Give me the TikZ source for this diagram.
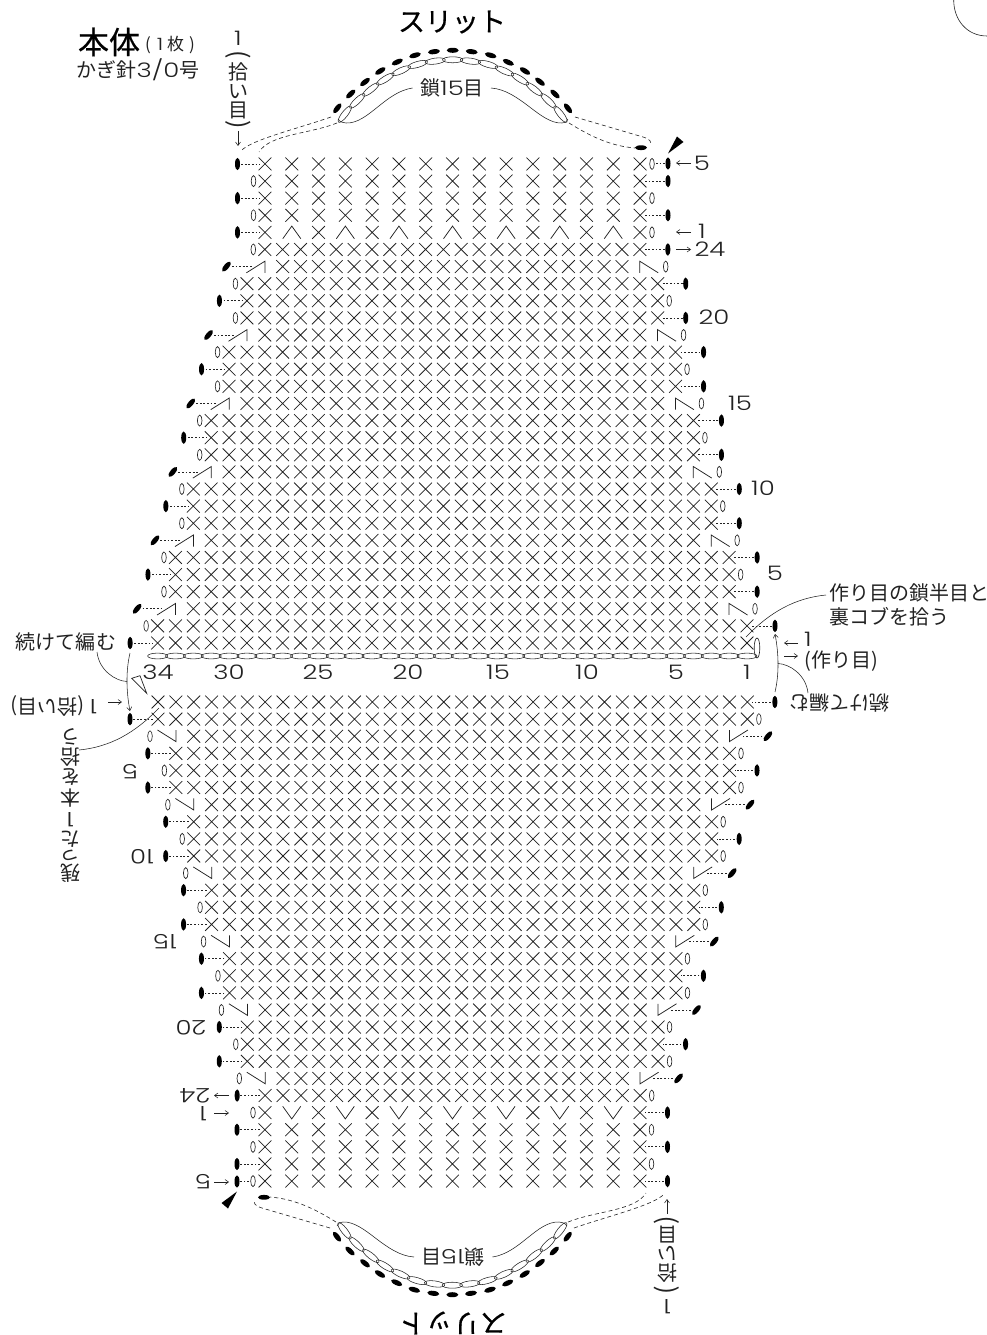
\documentclass[tikz,border=0pt]{standalone}
\usepackage{fontspec}
\setmainfont{Noto Sans CJK JP}
\newfontfamily\numf[FakeStretch=1.3]{Poppins Light}
\newfontfamily\heavyjp[FakeBold=0.5]{Noto Sans CJK JP}
\definecolor{ink}{HTML}{222222}
\usetikzlibrary{arrows.meta}
\tikzset{
  stitch/.style={draw=ink,line width=0.75pt},
  thinl/.style={draw=ink,line width=0.55pt},
  loopst/.style={draw=ink,line width=0.65pt},
  dashl/.style={draw=ink,line width=0.7pt,dash pattern=on 1.8pt off 1.8pt},
  longdash/.style={draw=ink,line width=0.6pt,dash pattern=on 4pt off 3pt},
  ballst/.style={fill=black,draw=none},
  arr/.style={draw=ink,line width=0.55pt,-{Straight Barb[length=3.5pt,width=5pt]}},
  txt/.style={inner sep=0pt,text=ink,font=\fontsize{20}{20}\selectfont,transform shape},
  bigparen/.style={inner sep=0pt,text=ink,font=\fontsize{25}{25}\selectfont,transform shape,rotate=-90},
  num/.style={inner sep=0pt,text=ink,font=\numf\fontsize{20}{20}\selectfont,transform shape},
}
\newcommand{\XX}[2]{\draw[stitch] (#1-6.4,#2-6.4) -- (#1+6.4,#2+6.4) (#1-6.4,#2+6.4) -- (#1+6.4,#2-6.4);}
\newcommand{\Ball}[2]{\fill[ballst] (#1,#2) ellipse[x radius=2.5,y radius=6.2];}
\newcommand{\Loop}[2]{\draw[loopst] (#1,#2) ellipse[x radius=2.3,y radius=5.5];}
\newcommand{\Slant}[3]{\fill[ballst,rotate around={#3:(#1,#2)}] (#1,#2) ellipse[x radius=6.2,y radius=2.5];}
% half of the chart, drawn once and then once more turned by 180 degrees
\newcommand{\halfchart}{%
  % rows 1..24
  \foreach \r in {1,...,24}{
    \pgfmathtruncatemacro{\LL}{\r<=3?34:(\r<=7?33:(\r<=11?32:(\r<=15?31:(\r<=19?30:(\r<=23?29:28)))))}
    \pgfmathtruncatemacro{\RR}{\r<=3?1:(\r<=7?2:(\r<=11?3:(\r<=15?4:(\r<=19?5:(\r<=23?6:7)))))}
    \pgfmathtruncatemacro{\dec}{(\r==3||\r==7||\r==11||\r==15||\r==19||\r==23)?1:0}
    \pgfmathtruncatemacro{\odd}{mod(\r,2)}
    \pgfmathsetmacro{\yy}{643-(\r-1)*17.11}
    \pgfmathsetmacro{\xl}{747-(\LL-1)*17.86}
    \pgfmathsetmacro{\xr}{747-(\RR-1)*17.86}
    \ifnum\dec=1
      \pgfmathtruncatemacro{\a}{\RR+2}
      \pgfmathtruncatemacro{\b}{\LL-2}
      \draw[stitch] (\xl-0.5,\yy+6.2) -- (\xl+18,\yy-5.4) -- (\xl+18,\yy+6.2);
      \draw[stitch] (\xr-18,\yy+6.2) -- (\xr-18,\yy-5.4) -- (\xr+0.5,\yy+6.2);
      \draw[dashl] (\xl-15,\yy) -- (\xl+6,\yy);
      \Slant{\xl-20.5}{\yy}{50}
      \Loop{\xr+8}{\yy}
    \else
      \pgfmathtruncatemacro{\a}{\RR}
      \pgfmathtruncatemacro{\b}{\LL}
      \ifnum\odd=1
        \draw[dashl] (\xl-27,\yy) -- (\xl-5,\yy);
        \Ball{\xl-27.5}{\yy}
        \ifnum\r=1\else\Loop{\xr+11.5}{\yy}\fi
      \else
        \draw[dashl] (\xr+5,\yy) -- (\xr+27,\yy);
        \Ball{\xr+28}{\yy}
        \Loop{\xl-11.5}{\yy}
      \fi
    \fi
    \foreach \c in {\a,...,\b}{
      \pgfmathsetmacro{\xc}{747-(\c-1)*17.86}
      \XX{\xc}{\yy}
    }
  }
  % the five open rows above
  \foreach \j in {1,...,5}{
    \pgfmathsetmacro{\yy}{249.5-\j*17.11}
    \foreach \i in {0,...,14}{
      \pgfmathsetmacro{\xc}{265+\i*26.79}
      \pgfmathtruncatemacro{\odi}{mod(\i,2)}
      \ifnum\j=1
        \ifnum\odi=1
          \draw[stitch] (\xc-9,\yy+6.3) -- (\xc,\yy-6.3) -- (\xc+9,\yy+6.3);
        \else
          \XX{\xc}{\yy}
        \fi
      \else
        \XX{\xc}{\yy}
      \fi
    }
    \pgfmathtruncatemacro{\oj}{mod(\j,2)}
    \ifnum\oj=1
      \draw[dashl] (237.5,\yy) -- (260,\yy);
      \Ball{237.5}{\yy}
      \Loop{652}{\yy}
    \else
      \draw[dashl] (645,\yy) -- (668,\yy);
      \Ball{668}{\yy}
      \Loop{253.5}{\yy}
    \fi
  }
  \draw[dashl] (656,163.5) -- (668,163.5);
  \Ball{668}{163.5}
  % the slit chain
  \foreach \x/\y/\a in {337.3/108.3/52,350.7/94/43.5,365/82/38,380.3/71/32,397.3/62/24,415/55.3/16,434/51.7/7.5,452.7/50.3/0,471.7/51.7/-7.5,490.7/55.3/-16,508.3/62.3/-24,525/71/-32,540/81.7/-38,555/94/-43.5,568/108.3/-52}{
    \fill[ballst,shift={(\x,\y)},rotate=\a] (0,0) ellipse[x radius=6,y radius=2.5];
    \draw[thinl,shift={(\x,\y)},rotate=\a] (0,9.5) ellipse[x radius=10.2,y radius=3];
  }
  \draw[longdash] (331,117) .. controls (300,128) and (250,140) .. (241,151);
  \draw[longdash] (337,123) .. controls (310,134) and (270,134) .. (259,152);
  \draw[longdash] (575,117) -- (643,137) .. controls (650,139) and (652,142) .. (650,145);
  \draw[longdash] (569,123) .. controls (590,136) and (610,146) .. (635,148);
  \fill[ballst] (641,147.7) ellipse[x radius=6,y radius=2.4];
  \fill[black] (668,153.5) -- (677,136.5) -- (683.5,142) -- cycle;
  \node[txt] (chainlabel) at (452,88) {鎖{\numf 15}目};
  \draw[thinl] (412.5,88) .. controls (385,92) and (368,124) .. (346,123) .. controls (343,123) and (340,122) .. (338,119);
  \draw[thinl] (491,88) .. controls (520,90) and (540,124) .. (562,123) .. controls (565,123) and (567,122) .. (568,119);
  \node[inner sep=0pt,text=black,font=\heavyjp\fontsize{27}{27}\selectfont,transform shape] (slit) at (452,22) {スリット};
  % the pick-up note in vertical setting
  \node[num] (pn1) at (238,38) {1};
  \node[bigparen] (pn2) at (238,55) {(};
  \node[txt] (pn3) at (238,72) {拾};
  \node[txt] (pn4) at (238,92) {い};
  \node[txt] (pn5) at (238,110) {目};
  \node[bigparen] (pn6) at (238,125) {)};
  \coordinate (pna) at (238,131);
  \coordinate (pnb) at (238,146);
  \draw[arr] (pna) -- (pnb);
  % row numbers
  \node[num] (n5) at (702,163) {5};
  \coordinate (n5a) at (691,163); \coordinate (n5z) at (676,163);
  \draw[arr] (n5a) -- (n5z);
  \node[num] (n1) at (702,231) {1};
  \coordinate (n1a) at (691,232); \coordinate (n1z) at (676,232);
  \draw[arr] (n1a) -- (n1z);
  \node[num] (n24) at (710,249.5) {24};
  \coordinate (n24a) at (676,249.5); \coordinate (n24z) at (691,249.5);
  \draw[arr] (n24a) -- (n24z);
  \node[num] (n20) at (714,317) {20};
  \node[num] (n15) at (740,403) {15};
  \node[num] (n10) at (763,488) {10};
  \node[num] (n5b) at (775,573) {5};
  % joining arrow and note
  \draw[arr] (130,653) .. controls (126,670) and (126,690) .. (130,711);
  \node[txt] (cont) at (66,642) {続けて編む};
  \draw[thinl] (97,652) .. controls (99,670) and (115,681) .. (127,681.5);
  \draw[thinl] (826,595) .. controls (795,598) and (770,612) .. (746,637);
}
\begin{document}
\begin{tikzpicture}[x=1pt,y=-1pt]
\useasboundingbox (0,0) rectangle (987,1335);
\begin{scope}
\clip (0,0) rectangle (987,1335);
\halfchart
\begin{scope}[rotate around={180:(452.5,672.5)}]
\halfchart
\end{scope}
\end{scope}
% centre chain
\foreach \c in {1,...,34}{
  \pgfmathsetmacro{\xc}{747-(\c-1)*17.86}
  \draw[thinl] (\xc,656) ellipse[x radius=10,y radius=2.9];
}
\draw[loopst] (757,648) ellipse[x radius=2.8,y radius=10];
% column numbers
\foreach \lab/\xx in {34/158,30/229,25/318,20/408,15/498,10/587,5/676,1/747}{
  \node[num] (col\lab) at (\xx,672) {\lab};
}
% title
\node[inner sep=0pt,text=black,font=\heavyjp\fontsize{31}{31}\selectfont] (t1) at (109,42) {本体};
\node[inner sep=0pt,text=ink,font=\fontsize{17}{17}\selectfont] (t2) at (170,45) {(\hspace{6pt}{\numf 1}\hspace{4pt}枚\hspace{5pt})};
\node[txt] (t3) at (138,70) {かぎ針{\numf 3/0}号};
% side notes
\node[txt,anchor=west] (m1) at (829,593) {作り目の鎖半目と};
\node[txt,anchor=west] (m2) at (829,617) {裏コブを拾う};
\node[num] (m3) at (808,639) {1};
\coordinate (m3a) at (798,643); \coordinate (m3b) at (784,643);
\draw[arr] (m3a) -- (m3b);
\coordinate (m4a) at (784,656); \coordinate (m4b) at (798,656);
\draw[arr] (m4a) -- (m4b);
\node[txt] (m4) at (841,661) {(作り目)};
\node[txt,rotate=180] (m5) at (54,706) {{\numf 1}\hspace{5pt}(拾い目)};
\coordinate (m5a) at (108,702); \coordinate (m5b) at (122,702);
\draw[arr] (m5a) -- (m5b);
% vertical note, turned by 180 degrees
\foreach \ch/\yy in {残/873,た/839,本/798,を/777,拾/757,う/737}{
  \node[txt,rotate=180] (v\yy) at (70,\yy) {\ch};
}
\node[num,rotate=180] (vone) at (70,820) {1};
\node[txt,rotate=180] (vsmall) at (70,850.4) {\smash{っ}};
\draw[draw=ink,line width=0.7pt,fill=white] (131.7,678.3) -- (140,675.7) -- (146.7,693.3) -- cycle;
% corner arc
\draw[draw=ink,line width=0.6pt] (953.7,0) .. controls (953.7,20) and (967,36) .. (987,36);
\end{tikzpicture}
\end{document}
